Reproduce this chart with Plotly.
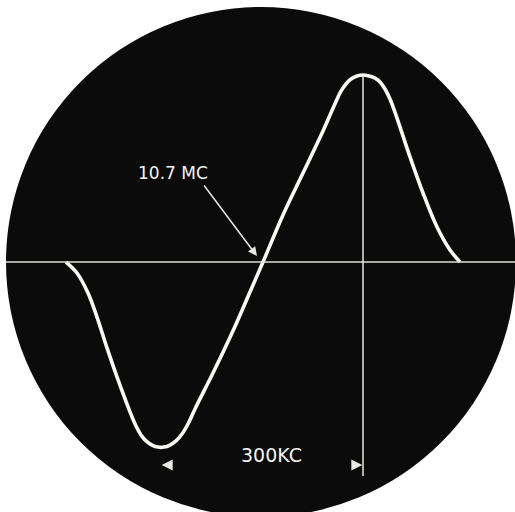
import plotly.graph_objects as go

# Discriminator S-curve: frequency offset from 10.7 Mc (kc) vs. output (relative)
freq_kc = [-294, -277.5, -261, -247.5, -232.5, -217.5, -198, -189, -181.5,
           -174, -165, -156, -147, -138, -129, -120, -111, -100.5, -73.5, -45,
           -18, 1.5, 31.5, 61.5, 91.5, 108, 118.5, 126, 133.5, 142.5, 151.5,
           160.5, 169.5, 177, 184.5, 192, 202.5, 222, 241.5, 262.5, 282, 297]
output = [0.0, -0.059, -0.167, -0.296, -0.462, -0.618, -0.806, -0.882, -0.930,
          -0.962, -0.984, -0.995, -0.995, -0.984, -0.962, -0.925, -0.871,
          -0.790, -0.597, -0.382, -0.161, 0.0, 0.253, 0.478, 0.704, 0.839,
          0.919, 0.957, 0.984, 1.0, 1.005, 1.0, 0.989, 0.968, 0.930, 0.876,
          0.774, 0.565, 0.371, 0.188, 0.065, 0.0]

center_label = "10.7 MC"
span_label = "300KC"
span_left_kc = -148.5
span_right_kc = 151.5
marker_kc = 151.5

W, H = 515, 512
fig = go.Figure()

fig.add_trace(go.Scatter(
    x=freq_kc, y=output, mode="lines",
    line=dict(color="#f8f8f4", width=3.6, shape="spline", smoothing=1.0),
    hoverinfo="skip", showlegend=False))

shapes = [
    # CRT face
    dict(type="circle", xref="paper", yref="paper",
         x0=6 / W, x1=516 / W, y0=1 - 517 / H, y1=1 - 7 / H,
         fillcolor="#0b0b0b", line=dict(color="#0b0b0b", width=0), layer="below"),
    # baseline
    dict(type="line", xref="paper", yref="y", x0=6 / W, x1=1, y0=0, y1=0,
         line=dict(color="#dcdcd8", width=1.6)),
    # vertical marker at peak
    dict(type="line", xref="x", yref="y", x0=marker_kc, x1=marker_kc,
         y0=1.0, y1=-1.15, line=dict(color="#e8e8e4", width=1.5)),
]

annotations = [
    dict(x=-133.5, y=0.478, xref="x", yref="y", text=center_label,
         showarrow=False, font=dict(family="DejaVu Sans", size=17, color="#f4f4f0")),
    dict(x=-7.5, y=0.032, xref="x", yref="y", text="", showarrow=True,
         ax=-54, ay=-72, arrowhead=2, arrowsize=1.2, arrowwidth=1.5,
         arrowcolor="#e8e8e4"),
    dict(x=13.5, y=-1.038, xref="x", yref="y", text=span_label,
         showarrow=False, font=dict(family="DejaVu Sans", size=19, color="#f4f4f0")),
    dict(x=span_left_kc - 2, y=-1.091, xref="x", yref="y", text="", showarrow=True,
         ax=10, ay=0, arrowhead=2, arrowsize=1.1, arrowwidth=2, arrowcolor="#e8e8e4"),
    dict(x=span_right_kc - 1, y=-1.091, xref="x", yref="y", text="", showarrow=True,
         ax=-10, ay=0, arrowhead=2, arrowsize=1.1, arrowwidth=2, arrowcolor="#e8e8e4"),
]

fig.update_layout(
    width=W, height=H, margin=dict(l=0, r=0, t=0, b=0),
    paper_bgcolor="white", plot_bgcolor="rgba(0,0,0,0)",
    shapes=shapes, annotations=annotations,
    xaxis=dict(range=[-393, 379.5], visible=False, fixedrange=True),
    yaxis=dict(range=[-1.344, 1.4086], visible=False, fixedrange=True),
)

fig.write_html("out.html", config=dict(displayModeBar=False),
               post_script="document.body.style.margin='0';document.body.style.overflow='hidden';")
